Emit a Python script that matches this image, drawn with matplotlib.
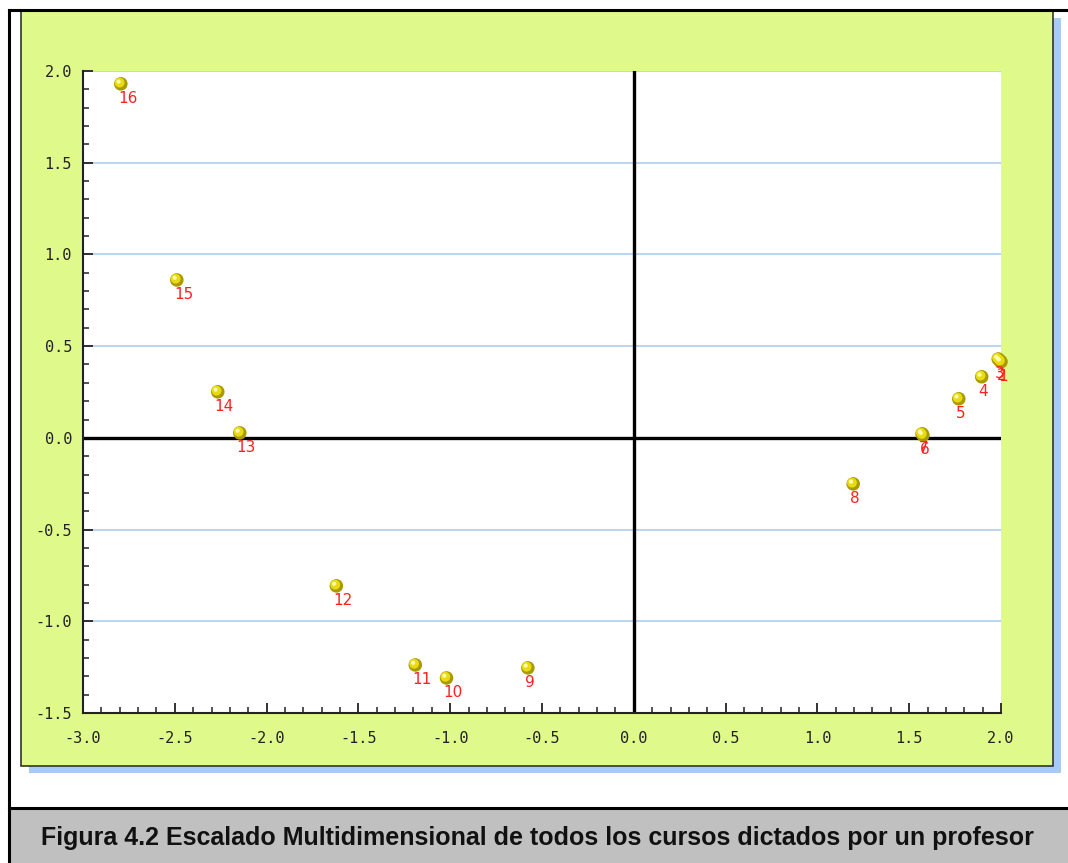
import matplotlib.pyplot as plt
import matplotlib.transforms as mtransforms
from matplotlib.patches import Rectangle
from matplotlib.lines import Line2D
import numpy as np

# coordenadas del escalado multidimensional (cursos 1..16)
cursos = ['1', '2', '3', '4', '5', '6', '7', '8', '9', '10', '11', '12', '13', '14', '15', '16']
dim1 = [2.00, 1.995, 1.985, 1.895, 1.77, 1.575, 1.57, 1.195, -0.577, -1.02, -1.19, -1.62, -2.146, -2.266, -2.489, -2.794]
dim2 = [0.415, 0.42, 0.43, 0.333, 0.213, 0.015, 0.022, -0.251, -1.254, -1.309, -1.238, -0.807, 0.027, 0.251, 0.861, 1.930]

xticks = [-3.0, -2.5, -2.0, -1.5, -1.0, -0.5, 0.0, 0.5, 1.0, 1.5, 2.0]
yticks = [-1.5, -1.0, -0.5, 0.0, 0.5, 1.0, 1.5, 2.0]
caption = 'Figura 4.2 Escalado Multidimensional de todos los cursos dictados por un profesor'

W, H = 1068, 863
fig = plt.figure(figsize=(W / 100, H / 100), dpi=100)
fig.patch.set_facecolor('white')

def box(x0, y0, x1, y1, **kw):
    # rectangulo en pixeles (origen arriba a la izquierda)
    fig.add_artist(Rectangle((x0 / W, 1 - y1 / H), (x1 - x0) / W, (y1 - y0) / H,
                             transform=fig.transFigure, **kw))

# sombra azul y panel verde
box(29, 18, 1061, 773, facecolor='#a7cbf3', edgecolor='none', zorder=0)
box(21, 11, 1053, 766, facecolor='#e0f98b', edgecolor='#333333', linewidth=1.2, zorder=1)
# franja gris del pie de figura
box(9, 808, 1068, 863, facecolor='#c0c0c0', edgecolor='none', zorder=1)
# lineas del marco
fig.add_artist(Line2D([9 / W, 1], [1 - 10 / H, 1 - 10 / H], color='black', lw=2.2, transform=fig.transFigure, zorder=2))
fig.add_artist(Line2D([9 / W, 9 / W], [0, 1 - 10 / H], color='black', lw=2.2, transform=fig.transFigure, zorder=2))
fig.add_artist(Line2D([9 / W, 1], [1 - 808 / H, 1 - 808 / H], color='black', lw=2.2, transform=fig.transFigure, zorder=2))

fig.text(537 / W, 1 - 838 / H, caption, ha='center', va='center', fontsize=18,
         fontweight='bold', family='Liberation Sans', color='#111111', zorder=3)

ax = fig.add_axes([83 / W, 1 - 713 / H, 918 / W, 642 / H])
ax.set_zorder(3)
ax.set_facecolor('white')
ax.set_xlim(-3.0, 2.0)
ax.set_ylim(-1.5, 2.0)

for s in ['top', 'right']:
    ax.spines[s].set_visible(False)
for s in ['left', 'bottom']:
    ax.spines[s].set_color('#222222')
    ax.spines[s].set_linewidth(1.5)

ax.set_xticks(xticks)
ax.set_yticks(yticks)
ax.set_xticks(np.arange(-3.0, 2.01, 0.1), minor=True)
ax.set_yticks(np.arange(-1.5, 2.01, 0.1), minor=True)
ax.set_xticklabels(['%.1f' % v for v in xticks])
ax.set_yticklabels(['%.1f' % v for v in yticks])
ax.tick_params(which='major', direction='in', length=7, width=1.3, color='#222222')
ax.tick_params(which='minor', direction='in', length=4, width=1.1, color='#222222')
ax.tick_params(axis='x', which='major', pad=13)
ax.tick_params(axis='y', which='major', pad=8)
for lab in ax.get_xticklabels() + ax.get_yticklabels():
    lab.set_family('DejaVu Sans Mono')
    lab.set_fontsize(11)
    lab.set_color('#222222')

# rejilla horizontal azul
for v in yticks:
    if v != 0.0 and v != -1.5:
        ax.axhline(v, color='#b4d2f2', lw=1.3, zorder=1)
ax.axhline(0, color='black', lw=2.4, zorder=2)
ax.axvline(0, color='black', lw=2.4, zorder=2)

# puntos tipo esfera amarilla
ax.scatter(dim1, dim2, s=95, color='#a89a00', edgecolors='none', zorder=4, clip_on=False)
hl = mtransforms.offset_copy(ax.transData, fig=fig, x=-1.2, y=1.2, units='dots')
ax.scatter(dim1, dim2, s=50, color='#e8dc10', edgecolors='none', zorder=5, transform=hl, clip_on=False)
hl2 = mtransforms.offset_copy(ax.transData, fig=fig, x=-2.2, y=2.2, units='dots')
ax.scatter(dim1, dim2, s=9, color='#fffbb0', edgecolors='none', zorder=6, transform=hl2, clip_on=False)

for c, x, y in zip(cursos, dim1, dim2):
    ax.annotate(c, (x, y), xytext=(-3, -7), textcoords='offset pixels',
                ha='left', va='top', color='#ff2020', fontsize=11, zorder=7,
                annotation_clip=False)

fig.savefig('out.png', dpi=100)
